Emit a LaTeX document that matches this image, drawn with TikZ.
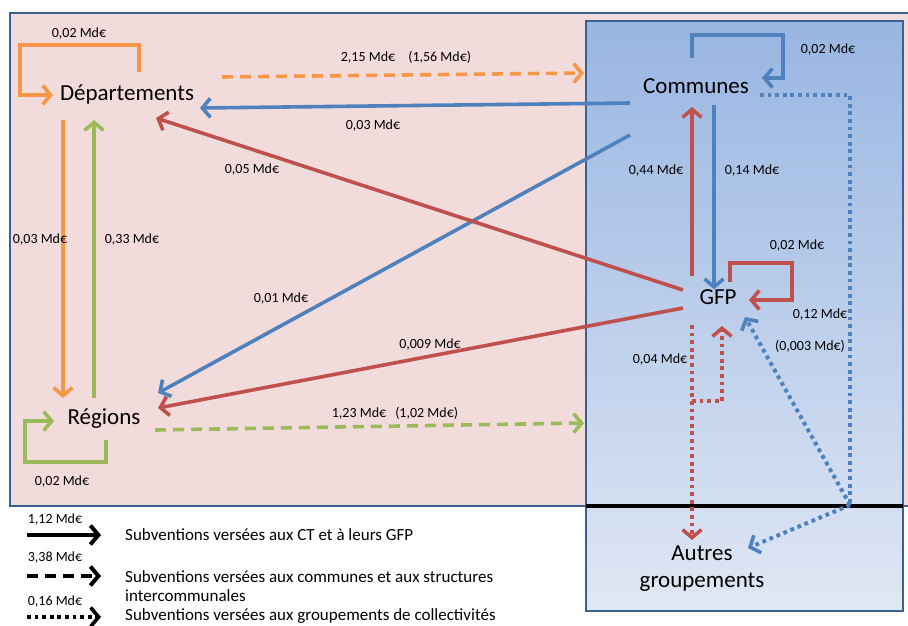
\documentclass[tikz,border=0pt]{standalone}
\usepackage{fontspec}
\setmainfont{Carlito}
\usetikzlibrary{arrows.meta,calc}
\definecolor{cOr}{HTML}{F79646}
\definecolor{cGr}{HTML}{9BBB59}
\definecolor{cBl}{HTML}{4F81BD}
\definecolor{cRe}{HTML}{C0504D}
\definecolor{cPink}{HTML}{F2DCDB}
\definecolor{cEdge}{HTML}{3B6093}
\definecolor{cTop}{RGB}{152,182,226}
\definecolor{cBot}{RGB}{224,231,244}
\tikzset{
  flow/.style={line width=3.6pt, -{Straight Barb[length=8pt,width=19pt]}},
  dashflow/.style={flow, dash pattern=on 11pt off 7pt},
  dotflow/.style={line width=4pt, dash pattern=on 3.8pt off 3.8pt},
  dotarrow/.style={dotflow, -{Straight Barb[length=8pt,width=19pt,line width=3.6pt]}},
  ent/.style={font=\fontsize{23}{27}\selectfont, inner sep=0pt, align=center},
  amt/.style={font=\fontsize{14}{16}\selectfont, inner sep=0pt},
  legtxt/.style={font=\fontsize{17}{19.5}\selectfont, inner sep=0pt, anchor=west, align=left},
}
\begin{document}
\begin{tikzpicture}[x=1pt,y=-1pt]
\useasboundingbox (0,0) rectangle (908,626);
% panels
\fill[cPink, draw=cEdge, line width=2.5pt] (10,13) rectangle (912,506);
\shade[top color=cTop, bottom color=cBot, draw=cEdge, line width=2.5pt] (586,21) rectangle (903,611);
\draw[black, line width=3.5pt] (586,506) -- (903,506);

% entities
\node[ent] (dep) at (127,94) {Départements};
\node[ent] (com) at (696,86) {Communes};
\node[ent] (gfp) at (718,297) {GFP};
\node[ent] (reg) at (104,419) {Régions};
\node[ent] (aut) at (702,569) {Autres\\groupements};

% connector end points
\coordinate (dLoopA) at ($(dep)+(12,-22)$);
\coordinate (dLoopB) at ($(dep)+(-74,1)$);
\coordinate (dOut) at ($(dep)+(95,-17)$);
\coordinate (dIn) at ($(dep)+(73,14)$);
\coordinate (dInR) at ($(dep)+(29,24)$);
\coordinate (dDown) at ($(dep)+(-64,26)$);
\coordinate (dUp) at ($(dep)+(-33,26)$);
\coordinate (rUp) at ($(reg)+(-10,-21)$);
\coordinate (rDown) at ($(reg)+(-41,-21)$);
\coordinate (rLoopA) at ($(reg)+(2,21)$);
\coordinate (rLoopB) at ($(reg)+(-50,2)$);
\coordinate (rOut) at ($(reg)+(51,11)$);
\coordinate (rInB) at ($(reg)+(54,-26)$);
\coordinate (rInR) at ($(reg)+(54,-11)$);
\coordinate (boxL1) at (584,73);
\coordinate (boxL2) at (584,423);
\coordinate (cLoopA) at ($(com)+(-4,-28)$);
\coordinate (cLoopB) at ($(com)+(66,-8)$);
\coordinate (cW1) at ($(com)+(-66,17)$);
\coordinate (cW2) at ($(com)+(-66,49)$);
\coordinate (cS) at ($(com)+(18,19)$);
\coordinate (cSin) at ($(com)+(-4,21)$);
\coordinate (cE) at ($(com)+(64,9)$);
\coordinate (split) at (850,505);
\coordinate (gN) at ($(gfp)+(-4,-21)$);
\coordinate (gNin) at ($(gfp)+(-26,-21)$);
\coordinate (gW1) at ($(gfp)+(-35,-7)$);
\coordinate (gW2) at ($(gfp)+(-35,11)$);
\coordinate (gLoopA) at ($(gfp)+(12,-15)$);
\coordinate (gLoopB) at ($(gfp)+(31,3)$);
\coordinate (gS) at ($(gfp)+(-26,28)$);
\coordinate (gSin) at ($(gfp)+(4,29)$);
\coordinate (gSE) at ($(gfp)+(27,20)$);
\coordinate (aN) at ($(aut)+(-10,-29)$);
\coordinate (aNE) at ($(aut)+(46,-21)$);

% departements
\draw[flow, cOr] (dLoopA) |- (20,45) |- (dLoopB);
\draw[dashflow, cOr] (dOut) -- (boxL1);
\draw[flow, cOr] (dDown) -- (rDown);
% regions
\draw[flow, cGr] (rUp) -- (dUp);
\draw[flow, cGr] (rLoopA) |- (25,462) |- (rLoopB);
\draw[dashflow, cGr] (rOut) -- (boxL2);
% communes
\draw[flow, cBl] (cLoopA) |- (783,35) |- (cLoopB);
\draw[flow, cBl] (cW1) -- (dIn);
\draw[flow, cBl] (cW2) -- (rInB);
\draw[flow, cBl] (cS) -- (gfp.north -| cS);
\draw[dotflow, cBl] (cE) -| (split);
\draw[dotarrow, cBl] (split) -- (aNE);
\draw[dotarrow, cBl] (split) -- (gSE);
% GFP
\draw[flow, cRe] (gNin) -- (cSin);
\draw[flow, cRe] (gW1) -- (dInR);
\draw[flow, cRe] (gW2) -- (rInR);
\draw[flow, cRe] (gLoopA) |- (792,263) |- (gLoopB);
\draw[dotarrow, cRe] (gS) -- (aN);
\draw[dotarrow, cRe] (692,401) -| (gSin);

% amounts
\node[amt] (a1) at (79,34) {0,02 Md€};
\node[amt] (a2) at (406,57) {2,15 Md€\hspace{13pt}(1,56 Md€)};
\node[amt] (a3) at (373,126) {0,03 Md€};
\node[amt] (a4) at (252,170) {0,05 Md€};
\node[amt] (a5) at (40,240) {0,03 Md€};
\node[amt] (a6) at (132,240) {0,33 Md€};
\node[amt] (a7) at (281,299) {0,01 Md€};
\node[amt] (a8) at (430,345) {0,009 Md€};
\node[amt] (a9) at (395,413) {1,23 Md€\hspace{9pt}(1,02 Md€)};
\node[amt] (a10) at (62,482) {0,02 Md€};
\node[amt] (a11) at (828,50) {0,02 Md€};
\node[amt] (a12) at (656,171) {0,44 Md€};
\node[amt] (a13) at (752,171) {0,14 Md€};
\node[amt] (a14) at (797,246) {0,02 Md€};
\node[amt] (a15) at (820,315) {0,12 Md€};
\node[amt] (a16) at (810,346) {(0,003 Md€)};
\node[amt] (a17) at (660,360) {0,04 Md€};

% legend
\node[amt] (k1) at (55,520) {1,12 Md€};
\node[amt] (k2) at (55,558) {3,38 Md€};
\node[amt] (k3) at (55,602) {0,16 Md€};
\coordinate (k1a) at (27,535);
\coordinate (k1b) at (101,535);
\coordinate (k2a) at (27,576);
\coordinate (k2b) at (101,576);
\coordinate (k3a) at (27,617);
\coordinate (k3b) at (101,617);
\draw[flow, black, line width=4pt] (k1a) -- (k1b);
\draw[dashflow, black, line width=4pt] (k2a) -- (k2b);
\draw[dotarrow, black] (k3a) -- (k3b);
\node[legtxt] (t1) at (125,535) {Subventions versées aux CT et à leurs GFP};
\node[legtxt] (t2) at (125,586) {Subventions versées aux communes et aux structures\\intercommunales};
\node[legtxt] (t3) at (125,616) {Subventions versées aux groupements de collectivités};
\end{tikzpicture}
\end{document}
